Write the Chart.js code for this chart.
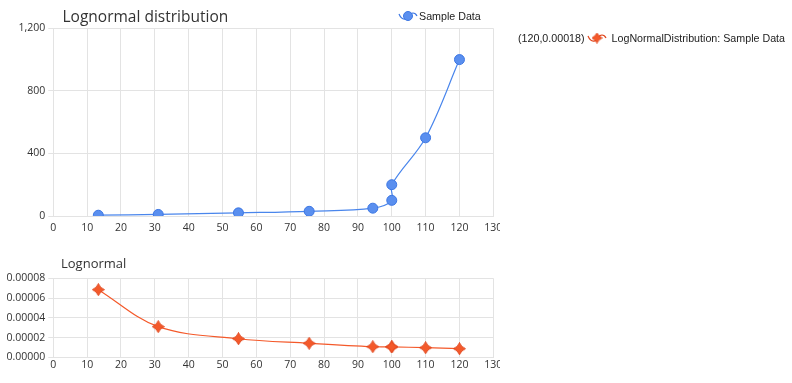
<!DOCTYPE html>
<html>
<head>
<meta charset="utf-8">
<script src="https://cdn.jsdelivr.net/npm/chart.js@4.4.1/dist/chart.umd.min.js"></script>
<style>
  html, body { margin: 0; padding: 0; background: #fff; }
  #wrap { position: relative; width: 792px; height: 383px; overflow: hidden; }
  canvas.chart { position: absolute; left: 0; }
  .leg { position: absolute; font: 10.7px "Liberation Sans", Arial, sans-serif; color: #222; white-space: nowrap; line-height: 12px; }
  .leg canvas { vertical-align: middle; position: relative; top: -1px; }
</style>
</head>
<body>
<div id="wrap">
  <canvas id="top" class="chart" width="500" height="240" style="top:0"></canvas>
  <canvas id="bottom" class="chart" width="500" height="133" style="top:250px"></canvas>
  <div class="leg" style="left:398px; top:10px;"><canvas id="icoBlue" width="20" height="12"></canvas><span style="margin-left:1px">Sample Data</span></div>
  <div class="leg" style="left:518px; top:32px;"><span>(120,0.00018)</span><canvas id="icoOrange" width="20" height="12" style="margin-left:2px"></canvas><span style="margin-left:5px">LogNormalDistribution: Sample Data</span></div>
</div>
<script>
// ---- data ----
const xValues = [13.3, 31, 54.7, 75.6, 94.4, 100, 100, 110, 120];
const sampleData = [5, 10, 20, 30, 50, 100, 200, 500, 1000];
const lognormalPdf = [0.0000685, 0.0000310, 0.0000188, 0.0000142, 0.0000107, 0.0000106, 0.0000106, 0.0000097, 0.0000087];
const topTitle = "Lognormal distribution";
const bottomTitle = "Lognormal";
const xTicks = [0, 10, 20, 30, 40, 50, 60, 70, 80, 90, 100, 110, 120, 130];
const topYTicks = [0, 400, 800, 1200];
const bottomYTicks = [0, 0.00002, 0.00004, 0.00006, 0.00008];

const BLUE = '#5a8fef', BLUE_DARK = '#3d77e3', BLUE_LINE = '#4a86ec';
const ORANGE = '#f4592a', ORANGE_DARK = '#e0441a';
const GRID = '#e3e3e3';
const TICK_FONT = { family: '"Open Sans", "Noto Sans", sans-serif', size: 10.5 };

function makeStar(size, fill, stroke) {
  const c = document.createElement('canvas');
  c.width = size; c.height = size;
  const g = c.getContext('2d');
  const m = size / 2, r = size / 2 - 0.5, k = 1.6;
  g.beginPath();
  g.moveTo(m, m - r);
  g.quadraticCurveTo(m + k, m - k, m + r, m);
  g.quadraticCurveTo(m + k, m + k, m, m + r);
  g.quadraticCurveTo(m - k, m + k, m - r, m);
  g.quadraticCurveTo(m - k, m - k, m, m - r);
  g.closePath();
  g.fillStyle = fill; g.fill();
  g.lineWidth = 1; g.strokeStyle = stroke; g.stroke();
  return c;
}
const star = makeStar(13, ORANGE, ORANGE_DARK);

function drawIcon(id, color, marker) {
  const c = document.getElementById(id), g = c.getContext('2d');
  g.strokeStyle = color; g.lineWidth = 1.2;
  g.beginPath();
  g.moveTo(1, 4);
  g.bezierCurveTo(4, 11, 9, 10, 11, 6);
  g.bezierCurveTo(13, 2, 17, 2, 19, 6);
  g.stroke();
  marker(g, 10, 6);
}
drawIcon('icoBlue', BLUE_DARK, (g, x, y) => {
  g.beginPath(); g.arc(x, y, 4.5, 0, Math.PI * 2);
  g.fillStyle = BLUE; g.fill(); g.strokeStyle = BLUE_DARK; g.lineWidth = 1; g.stroke();
});
drawIcon('icoOrange', ORANGE_DARK, (g, x, y) => {
  g.drawImage(makeStar(11, ORANGE, ORANGE_DARK), x - 5.5, y - 5.5);
});

const titlePlugin = {
  id: 'cornerTitle',
  afterDraw(chart, args, opts) {
    const ctx = chart.ctx;
    ctx.save();
    ctx.font = opts.size + 'px "Open Sans", "Noto Sans", sans-serif';
    ctx.fillStyle = '#333';
    ctx.textBaseline = 'alphabetic';
    ctx.textAlign = 'left';
    ctx.fillText(opts.text, opts.x, opts.y);
    ctx.restore();
  }
};

function xScale(height, pad) {
  return {
    type: 'linear', min: 0, max: 130,
    afterBuildTicks: s => { s.ticks = xTicks.map(v => ({ value: v })); },
    afterFit: s => { s.height = height; s.paddingLeft = 0; s.paddingRight = 0; },
    grid: { color: GRID, drawTicks: false },
    border: { color: GRID },
    ticks: { color: '#333', font: TICK_FONT, padding: pad, maxRotation: 0, autoSkip: false }
  };
}
function yScale(ticks, fmt) {
  return {
    type: 'linear', min: ticks[0], max: ticks[ticks.length - 1],
    afterBuildTicks: s => { s.ticks = ticks.map(v => ({ value: v })); },
    afterFit: s => { s.width = 53.3; },
    grid: { color: GRID, tickLength: 5 },
    border: { color: GRID },
    ticks: { color: '#333', font: TICK_FONT, padding: 3, callback: fmt }
  };
}

new Chart(document.getElementById('top'), {
  type: 'line',
  data: {
    datasets: [{
      label: 'Sample Data',
      data: xValues.map((x, i) => ({ x, y: sampleData[i] })),
      borderColor: BLUE_LINE, borderWidth: 1.2,
      backgroundColor: BLUE, pointBackgroundColor: BLUE, pointBorderColor: BLUE_DARK,
      pointRadius: 5, pointBorderWidth: 1, tension: 0.35, fill: false
    }]
  },
  options: {
    responsive: false, animation: false,
    layout: { padding: { left: 0, right: 6.7, top: 28.3, bottom: 0 } },
    plugins: {
      legend: { display: false }, title: { display: false }, tooltip: { enabled: false },
      cornerTitle: { text: topTitle, x: 62.5, y: 22.3, size: 15.5 }
    },
    scales: {
      x: xScale(24, 6),
      y: yScale(topYTicks, v => Number(v).toLocaleString('en-US'))
    }
  },
  plugins: [titlePlugin]
});

new Chart(document.getElementById('bottom'), {
  type: 'line',
  data: {
    datasets: [{
      label: 'LogNormalDistribution: Sample Data',
      data: xValues.map((x, i) => ({ x, y: lognormalPdf[i] })),
      borderColor: ORANGE, borderWidth: 1.2,
      backgroundColor: ORANGE, pointStyle: star,
      tension: 0.35, fill: false
    }]
  },
  options: {
    responsive: false, animation: false,
    layout: { padding: { left: 0, right: 6.7, top: 28.3, bottom: 0 } },
    plugins: {
      legend: { display: false }, title: { display: false }, tooltip: { enabled: false },
      cornerTitle: { text: bottomTitle, x: 61, y: 18.3, size: 13 }
    },
    scales: {
      x: xScale(25.7, 1),
      y: yScale(bottomYTicks, v => Number(v).toFixed(5))
    }
  },
  plugins: [titlePlugin]
});
</script>
</body>
</html>
